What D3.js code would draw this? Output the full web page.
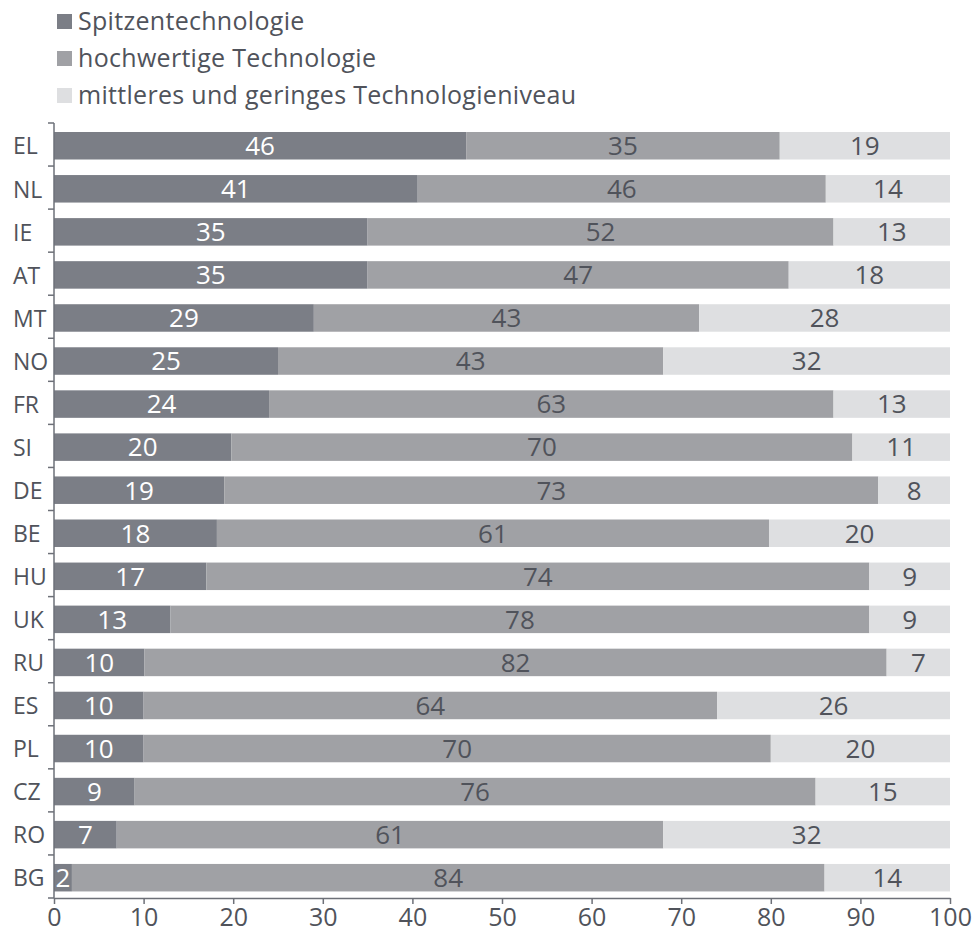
<!DOCTYPE html>
<html>
<head>
<meta charset="utf-8">
<script src="https://cdn.jsdelivr.net/npm/d3@7"></script>
<style>
  body { margin: 0; background: #fff; }
  svg text { font-family: "Open Sans", sans-serif; }
</style>
</head>
<body>
<script>
// countries, top to bottom
const countries = ['EL', 'NL', 'IE', 'AT', 'MT', 'NO', 'FR', 'SI', 'DE', 'BE', 'HU', 'UK', 'RU', 'ES', 'PL', 'CZ', 'RO', 'BG'];
// shares in %, as printed in the bars
const spitze = [46, 41, 35, 35, 29, 25, 24, 20, 19, 18, 17, 13, 10, 10, 10, 9, 7, 2];
const hochwertig = [35, 46, 52, 47, 43, 43, 63, 70, 73, 61, 74, 78, 82, 64, 70, 76, 61, 84];
const mittelGering = [19, 14, 13, 18, 28, 32, 13, 11, 8, 20, 9, 9, 7, 26, 20, 15, 32, 14];
const seriesNames = ['Spitzentechnologie', 'hochwertige Technologie', 'mittleres und geringes Technologieniveau'];
const xTicks = [0, 10, 20, 30, 40, 50, 60, 70, 80, 90, 100];

const colors = ['#7b7e86', '#a0a1a5', '#dedfe1'];
const labelColors = ['#ffffff', '#50535b', '#50535b'];
const axisColor = '#6d7078';
const textColor = '#50535b';

const svgWidth = 976;
const svgHeight = 933;
const margin = { left: 54, right: 26, top: 123, bottom: 35 };

const svg = d3.select('body')
  .append('svg')
  .attr('width', svgWidth)
  .attr('height', svgHeight);

const rows = countries.map((c, i) => ({
  country: c,
  s0: spitze[i],
  s1: hochwertig[i],
  s2: mittelGering[i]
}));

// printed values don't always add to exactly 100, the bars are normalised
const stack = d3.stack()
  .keys(['s0', 's1', 's2'])
  .offset(d3.stackOffsetExpand);
const layers = stack(rows);

const x = d3.scaleLinear()
  .domain([0, 1])
  .range([margin.left, svgWidth - margin.right]);

const xAxisScale = d3.scaleLinear()
  .domain([0, 100])
  .range(x.range());

const y = d3.scaleBand()
  .domain(countries)
  .range([margin.top, svgHeight - margin.bottom])
  .padding(0);

const barInset = 9;
const barHeight = 27.5;

// bars
const layerG = svg.append('g')
  .selectAll('g')
  .data(layers)
  .join('g')
  .attr('fill', (d, i) => colors[i]);

layerG.selectAll('rect')
  .data((d) => d)
  .join('rect')
  .attr('x', (d) => x(d[0]))
  .attr('y', (d) => y(d.data.country) + barInset)
  .attr('width', (d) => x(d[1]) - x(d[0]))
  .attr('height', barHeight);

// value labels
svg.append('g')
  .selectAll('g')
  .data(layers)
  .join('g')
  .attr('fill', (d, i) => labelColors[i])
  .each(function (layer) {
    d3.select(this).selectAll('text')
      .data(layer)
      .join('text')
      .attr('x', (d) => (x(d[0]) + x(d[1])) / 2)
      .attr('y', (d) => y(d.data.country) + barInset + barHeight / 2)
      .attr('dy', '0.36em')
      .attr('text-anchor', 'middle')
      .style('font-size', '26px')
      .text((d) => d.data[layer.key]);
  });

// x axis
const xAxis = svg.append('g')
  .attr('transform', `translate(0, ${svgHeight - margin.bottom})`)
  .call(d3.axisBottom(xAxisScale).tickValues(xTicks).tickSize(6).tickSizeOuter(0).tickPadding(4));

xAxis.select('.domain').attr('stroke', axisColor).attr('stroke-width', 1.5);
xAxis.selectAll('.tick line').attr('stroke', axisColor).attr('stroke-width', 1.5);
xAxis.selectAll('.tick text')
  .attr('fill', textColor)
  .style('font-size', '25px')
  .style('font-family', '"Open Sans", sans-serif');

// y axis: line with ticks at the band edges
const yAxis = svg.append('g');
yAxis.append('line')
  .attr('x1', margin.left).attr('x2', margin.left)
  .attr('y1', y.range()[0]).attr('y2', y.range()[1])
  .attr('stroke', axisColor)
  .attr('stroke-width', 1.5);

const edges = countries.map((c) => y(c)).concat([y.range()[1]]);
yAxis.selectAll('line.edge')
  .data(edges)
  .join('line')
  .attr('class', 'edge')
  .attr('x1', margin.left - 6).attr('x2', margin.left)
  .attr('y1', (d) => d).attr('y2', (d) => d)
  .attr('stroke', axisColor)
  .attr('stroke-width', 1.5);

yAxis.selectAll('text')
  .data(countries)
  .join('text')
  .attr('x', 13)
  .attr('y', (d) => y(d) + barInset + barHeight / 2)
  .attr('dy', '0.38em')
  .attr('fill', textColor)
  .style('font-size', '23px')
  .text((d) => d);

// legend
const legend = svg.append('g')
  .selectAll('g')
  .data(seriesNames)
  .join('g')
  .attr('transform', (d, i) => `translate(57, ${30 + i * 37})`);

legend.append('rect')
  .attr('x', 0)
  .attr('y', -16)
  .attr('width', 15)
  .attr('height', 15)
  .attr('fill', (d, i) => colors[i]);

legend.append('text')
  .attr('x', 21)
  .attr('y', 0)
  .attr('fill', textColor)
  .style('font-size', '25px')
  .style('letter-spacing', '0.3px')
  .text((d) => d);
</script>
</body>
</html>
